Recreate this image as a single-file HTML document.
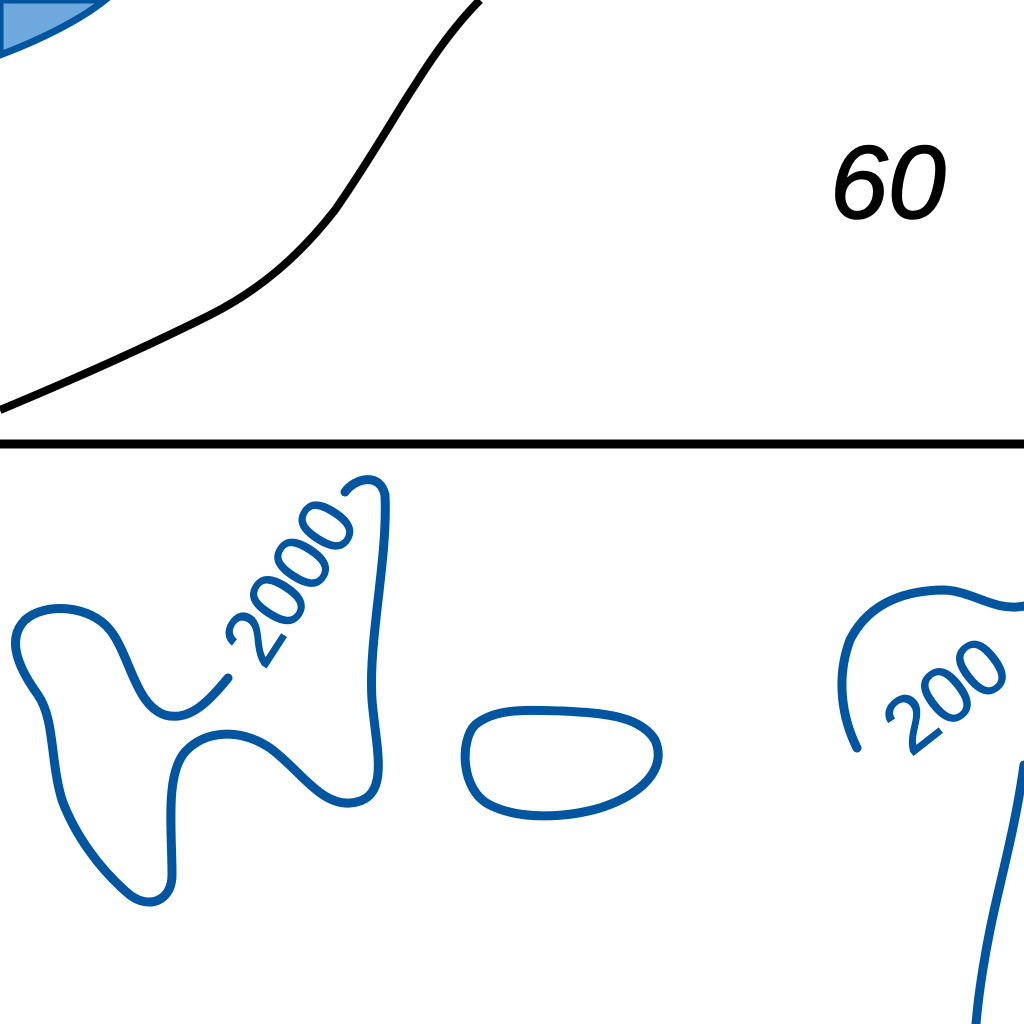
<!DOCTYPE html>
<html><head><meta charset="utf-8"><style>
html,body{margin:0;padding:0;background:#fff;width:1024px;height:1024px;overflow:hidden}
svg{display:block}
</style></head><body>
<svg width="1024" height="1024" viewBox="0 0 1024 1024" xmlns="http://www.w3.org/2000/svg">
<rect width="1024" height="1024" fill="#fff"/>
<path d="M0,0 L105,0 C80,20 40,40 0,55 Z" fill="#6fa8dc" stroke="#0055a0" stroke-width="7"/>
<path d="M0,410 C60,385 140,350 210,315 C260,290 300,255 335,210 C370,160 395,115 415,85 C440,45 460,20 480,0" fill="none" stroke="#000" stroke-width="8"/>
<text x="830" y="218" font-family="Liberation Sans, sans-serif" font-style="italic" font-size="104" fill="#000" stroke="#000" stroke-width="1.5">60</text>
<line x1="0" y1="444" x2="1024" y2="444" stroke="#000" stroke-width="9"/>
<g fill="none" stroke="#0055a0" stroke-width="9" stroke-linejoin="round" stroke-linecap="round">
<path d="M345,492 C355,478 380,472 385,495 C388,560 368,640 372,700 C376,750 392,800 350,803 C320,805 300,770 270,748 C240,728 205,730 185,752 C165,775 172,830 172,875 C172,900 150,910 130,895 C100,870 75,835 62,800 C50,760 55,720 38,695 C20,670 5,640 25,620 C45,602 90,605 110,630 C130,655 135,705 165,715 C190,722 210,700 228,678"/>
<path d="M562,711 C600,713 640,715 655,740 C668,770 640,795 600,808 C565,818 520,820 490,805 C460,790 460,740 475,725 C495,708 525,710 562,711 Z"/>
<path d="M857,748 C843,720 835,680 850,640 C870,600 910,590 945,590 C975,592 995,612 1024,606"/>
<path d="M1024,765 C1015,830 1000,880 990,930 C983,965 978,1000 976,1024"/>
</g>
<text x="0" y="0" transform="translate(295,585) rotate(-57)" text-anchor="middle" dominant-baseline="middle" font-family="Liberation Sans, sans-serif" font-size="80" fill="#0055a0" stroke="#0055a0" stroke-width="1">2000</text>
<text x="0" y="0" transform="translate(950,700) rotate(-38)" text-anchor="middle" dominant-baseline="middle" font-family="Liberation Sans, sans-serif" font-size="80" fill="#0055a0" stroke="#0055a0" stroke-width="1">200</text>
</svg>
</body></html>
